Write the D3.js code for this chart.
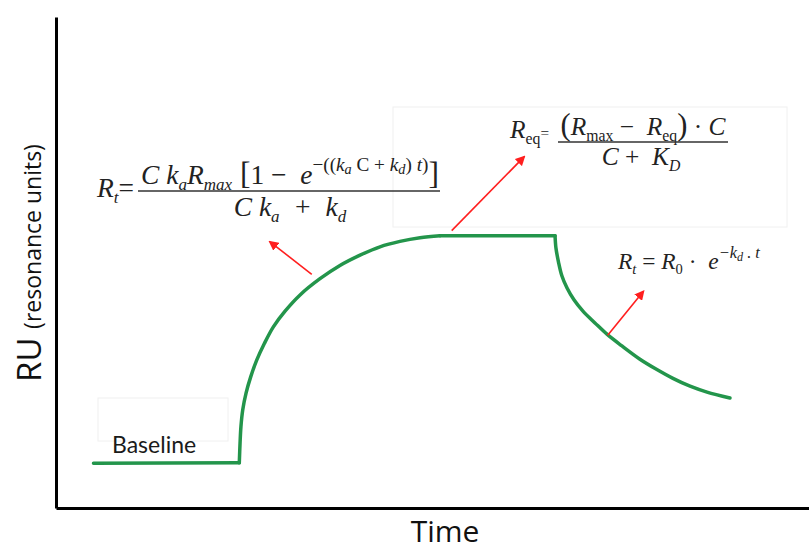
<!DOCTYPE html>
<html>
<head>
<meta charset="utf-8">
<script src="https://cdn.jsdelivr.net/npm/d3@7"></script>
<style>
  body { margin: 0; background: #fff; }
  svg { display: block; }
</style>
</head>
<body>
<div id="chart"></div>
<script>
// sensorgram (time in s, response in RU, arbitrary units)
var baseT  = [25, 122.2];
var baseRU = [9.1, 9.2];
var assocT  = [122.7, 123.3, 124.5, 126.7, 129.8, 133.8, 138.9, 144.9, 152.7, 162.7,
               176, 189.3, 202.7, 216, 229.3, 242.7, 256];
var assocRU = [13.2, 16.6, 20.0, 23.4, 26.7, 30.1, 33.5, 36.9, 40.1, 43.4,
               46.7, 49.4, 51.5, 53.2, 54.3, 55.05, 55.45];
var equilT  = [332.7];
var equilRU = [55.45];
var dissocT  = [333.3, 335, 337.3, 340.7, 345.3, 351.3, 359.3, 367.3, 377.3, 389.3,
                400, 411.3, 422.7, 434, 449.3];
var dissocRU = [52.95, 50.1, 47.25, 44.8, 42.4, 40.1, 37.7, 35.4, 33.0, 30.3,
                28.3, 26.4, 24.8, 23.6, 22.4];

// red arrows pointing from the curve to each equation
var arrowTails = [[170.5, 47.6], [263.8, 56.5], [367.8, 35.2]];
var arrowHeads = [[142.7, 54.2], [312, 71.5], [391.5, 44.1]];

var xLabel = "Time";
var yLabelMain = "RU";
var yLabelSub = "(resonance units)";
var phaseLabel = "Baseline";

var W = 809, H = 551;

var svg = d3.select("#chart").append("svg")
    .attr("width", W)
    .attr("height", H);

var x = d3.scaleLinear().domain([0, 502]).range([56, 809]);
var y = d3.scaleLinear().domain([0, 100]).range([508, 17]);

function toPoints(ts, rus) {
    return ts.map(function(t, i) { return {t: t, ru: rus[i]}; });
}
var phases = [toPoints(baseT, baseRU), toPoints(assocT, assocRU),
              toPoints(equilT, equilRU), toPoints(dissocT, dissocRU)];

// one piece per phase so the corners stay sharp,
// each piece starts at the last point of the phase before it
var pieces = phases.map(function(p, i) {
    return i == 0 ? p : [phases[i - 1][phases[i - 1].length - 1]].concat(p);
});

// faint boxes left over from the pasted equations
svg.append("rect").attr("x", 393).attr("y", 107).attr("width", 394).attr("height", 120)
    .attr("fill", "none").attr("stroke", "#f0f0f0");
svg.append("rect").attr("x", 98).attr("y", 398).attr("width", 130).attr("height", 43)
    .attr("fill", "none").attr("stroke", "#f0f0f0");

// axes, no ticks
svg.append("g")
    .attr("transform", "translate(" + x(0) + ",0)")
    .call(d3.axisLeft(y).ticks(0).tickSizeOuter(0))
    .select(".domain").attr("stroke", "#000").attr("stroke-width", 3);
svg.append("g")
    .attr("transform", "translate(0," + y(0) + ")")
    .call(d3.axisBottom(x).ticks(0).tickSizeOuter(0))
    .select(".domain").attr("stroke", "#000").attr("stroke-width", 3);

var line = d3.line()
    .x(function(d) { return x(d.t); })
    .y(function(d) { return y(d.ru); })
    .curve(d3.curveCatmullRom.alpha(0.5));

svg.selectAll(".piece")
    .data(pieces)
  .enter().append("path")
    .attr("class", "piece")
    .attr("fill", "none")
    .attr("stroke", "#23954b")
    .attr("stroke-width", 3.5)
    .attr("stroke-linejoin", "round")
    .attr("stroke-linecap", "round")
    .attr("d", line);

// arrows
svg.append("defs").append("marker")
    .attr("id", "head")
    .attr("viewBox", "0 0 10 10")
    .attr("refX", 8).attr("refY", 5)
    .attr("markerWidth", 10).attr("markerHeight", 10)
    .attr("markerUnits", "userSpaceOnUse")
    .attr("orient", "auto")
  .append("path")
    .attr("d", "M0,0L10,5L0,10Z")
    .attr("fill", "#ff1f1f");

svg.selectAll(".arrow")
    .data(arrowTails)
  .enter().append("line")
    .attr("class", "arrow")
    .attr("x1", function(d) { return x(d[0]); })
    .attr("y1", function(d) { return y(d[1]); })
    .attr("x2", function(d, i) { return x(arrowHeads[i][0]); })
    .attr("y2", function(d, i) { return y(arrowHeads[i][1]); })
    .attr("stroke", "#ff1f1f")
    .attr("stroke-width", 1.6)
    .attr("marker-end", "url(#head)");

// little helper for maths: parts are [text, italic, level, extra size]
// level 0 = normal, -1 = subscript, 1 = superscript, 2 = subscript inside superscript
var lvlSize = {"0": 1, "-1": 0.62, "1": 0.7, "2": 0.52};
var lvlShift = {"0": 0, "-1": 0.22, "1": -0.48, "2": -0.36};

function mathText(px, py, parts, size, anchor) {
    var t = svg.append("text")
        .attr("x", px).attr("y", py)
        .attr("text-anchor", anchor || "start")
        .attr("font-family", "'Liberation Serif', 'Times New Roman', serif")
        .attr("font-size", size)
        .attr("fill", "#222");
    var prev = 0;
    parts.forEach(function(p) {
        var lvl = p[2] || 0;
        var shift = lvlShift[lvl] * size;
        t.append("tspan")
            .attr("dy", shift - prev)
            .attr("font-size", size * lvlSize[lvl] * (p[3] || 1))
            .attr("font-style", p[1] ? "italic" : "normal")
            .style("white-space", "pre")
            .text(p[0]);
        prev = shift;
    });
    return t;
}

// font size that makes a row of parts as wide as the reference shows it
function fitSize(parts, width) {
    var probe = mathText(0, -100, parts, 20);
    var len = probe.node().getComputedTextLength();
    probe.remove();
    return 20 * width / len;
}

function fracBar(x1, x2, yy) {
    svg.append("line").attr("x1", x1).attr("x2", x2).attr("y1", yy).attr("y2", yy)
        .attr("stroke", "#333").attr("stroke-width", 1.6);
}

// association equation
var num1 = [["C k", 1], ["a", 1, -1], ["R", 1], ["max", 1, -1], [" [", 0, 0, 1.15], ["1 \u2212  ", 0],
    ["e", 1], ["\u2212((", 0, 1], ["k", 1, 1], ["a", 1, 2], [" C + ", 0, 1], ["k", 1, 1], ["d", 1, 2],
    [") ", 0, 1], ["t", 1, 1], [")", 0, 1], ["]", 0, 0, 1.15]];
var s1 = fitSize(num1, 298);
mathText(97, 197, [["R", 1], ["t", 1, -1], ["=", 0]], s1);
mathText(290, 184, num1, s1, "middle");
fracBar(138, 440, 191);
mathText(290, 216, [["C k", 1], ["a", 1, -1], ["  +  k", 1], ["d", 1, -1]], s1, "middle");

// equilibrium equation
var num2 = [["(", 0, 0, 1.2], ["R", 1], ["max", 0, -1], [" \u2212  ", 0], ["R", 1], ["eq", 0, -1],
    [")", 0, 0, 1.2], [" \u00b7 ", 0], ["C", 1]];
var s2 = fitSize(num2, 165);
mathText(510, 138, [["R", 1], ["eq", 0, -1], ["=", 0, 0, 0.6]], s2);
mathText(643, 135, num2, s2, "middle");
fracBar(558, 728, 142);
mathText(641, 165, [["C", 1], [" +  ", 0], ["K", 1], ["D", 1, -1]], s2, "middle");

// dissociation equation
var eq3 = [["R", 1], ["t", 1, -1], [" = ", 0], ["R", 1], ["0", 0, -1], [" \u00b7  ", 0],
    ["e", 1], ["\u2212k", 1, 1], ["d", 1, 2], [" . t", 1, 1]];
mathText(618, 269, eq3, fitSize(eq3, 142));

// labels
svg.append("text")
    .attr("x", 112).attr("y", 453)
    .attr("font-family", "Lato, 'Open Sans', sans-serif")
    .attr("font-size", 23)
    .attr("fill", "#1a1a1a")
    .text(phaseLabel);

svg.append("text")
    .attr("x", 445).attr("y", 542)
    .attr("text-anchor", "middle")
    .attr("font-family", "'Open Sans', sans-serif")
    .attr("font-size", 30)
    .attr("fill", "#111")
    .text(xLabel);

var yl = svg.append("text")
    .attr("transform", "translate(41,263) rotate(-90)")
    .attr("text-anchor", "middle")
    .attr("font-family", "'Open Sans', sans-serif")
    .attr("fill", "#111");
yl.append("tspan").attr("font-size", 33).text(yLabelMain + " ");
yl.append("tspan").attr("font-size", 23).text(yLabelSub);
</script>
</body>
</html>
